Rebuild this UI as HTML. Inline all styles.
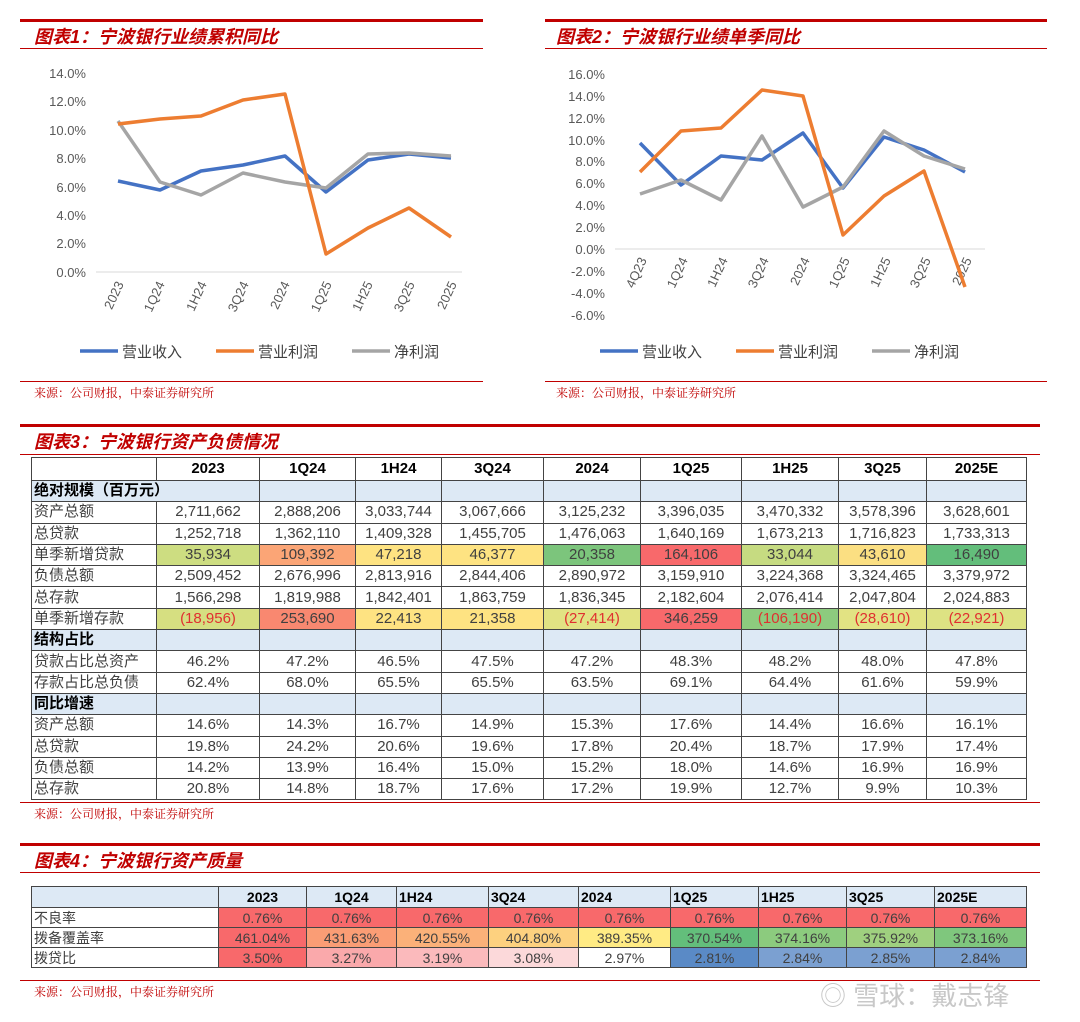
<!DOCTYPE html>
<html><head><meta charset="utf-8"><style>
body{margin:0;width:1080px;height:1022px;background:#fff;position:relative;overflow:hidden;font-family:"Liberation Sans","Noto Sans CJK SC",sans-serif;}
.ab{position:absolute}
.title{position:absolute;color:#c00000;font-style:italic;font-weight:bold;font-size:18px;font-family:"Liberation Sans","Noto Sans CJK SC",sans-serif;}
.thick{position:absolute;height:3px;background:#c00000}
.thin{position:absolute;height:1px;background:#c00000}
.src{position:absolute;color:#c00000;font-size:12px;font-family:"Liberation Serif","Noto Serif CJK SC",serif;}
table{border-collapse:collapse;position:absolute;font-size:15px;color:#404040;table-layout:fixed}
td{border:1px solid #444;padding:0 2px;line-height:16px;text-align:center;white-space:nowrap;overflow:hidden}
tr{height:20px}
#t3 tr{height:21.3px}
td.l{text-align:left}
.hd td{font-weight:bold;color:#000;background:#fff}
.sec td{background:#dde9f5;font-weight:bold;color:#000;text-align:left}
.neg{color:#e03030}
</style></head><body>

<div class="thick" style="left:20px;top:19px;width:463px"></div>
<div class="thin" style="left:20px;top:48px;width:463px"></div>
<div class="title" style="left:34px;top:23px">图表1：宁波银行业绩累积同比</div>
<div class="thick" style="left:545px;top:19px;width:502px"></div>
<div class="thin" style="left:545px;top:48px;width:502px"></div>
<div class="title" style="left:556px;top:23px">图表2：宁波银行业绩单季同比</div>

<svg class="ab" style="left:0;top:0" width="1080" height="420">
<g font-size="13" fill="#595959" text-anchor="end" font-family="Liberation Sans">
<text x="86" y="78">14.0%</text><text x="86" y="106">12.0%</text><text x="86" y="135">10.0%</text><text x="86" y="163">8.0%</text><text x="86" y="192">6.0%</text><text x="86" y="220">4.0%</text><text x="86" y="248">2.0%</text><text x="86" y="277">0.0%</text>
</g>
<line x1="96" y1="272" x2="462" y2="272" stroke="#d9d9d9"/>
<g font-size="13" fill="#595959" text-anchor="end" font-family="Liberation Sans">
<text transform="translate(124,284) rotate(-65)">2023</text><text transform="translate(165,284) rotate(-65)">1Q24</text><text transform="translate(207,284) rotate(-65)">1H24</text><text transform="translate(249,284) rotate(-65)">3Q24</text><text transform="translate(290,284) rotate(-65)">2024</text><text transform="translate(332,284) rotate(-65)">1Q25</text><text transform="translate(373,284) rotate(-65)">1H25</text><text transform="translate(415,284) rotate(-65)">3Q25</text><text transform="translate(457,284) rotate(-65)">2025</text>
</g>
<g fill="none" stroke-width="3.5" stroke-linejoin="round">
<polyline stroke="#4472c4" points="118,181 160,190 201,171 243,165 285,156 326,192 368,160 409,154 451,158"/>
<polyline stroke="#a5a5a5" points="118,121 160,182 201,195 243,173 285,182 326,188 368,154 409,153 451,156"/>
<polyline stroke="#ed7d31" points="118,124 160,119 201,116 243,100 285,94 326,254 368,228 409,208 451,237"/>
</g>
<g font-size="15" fill="#404040" font-family="Liberation Sans,Noto Sans CJK SC">
<line x1="80" y1="351" x2="118" y2="351" stroke="#4472c4" stroke-width="3.5"/><text x="122" y="357">营业收入</text>
<line x1="216" y1="351" x2="254" y2="351" stroke="#ed7d31" stroke-width="3.5"/><text x="258" y="357">营业利润</text>
<line x1="352" y1="351" x2="390" y2="351" stroke="#a5a5a5" stroke-width="3.5"/><text x="394" y="357">净利润</text>
</g>

<g font-size="13" fill="#595959" text-anchor="end" font-family="Liberation Sans">
<text x="605" y="79">16.0%</text><text x="605" y="101">14.0%</text><text x="605" y="123">12.0%</text><text x="605" y="145">10.0%</text><text x="605" y="166">8.0%</text><text x="605" y="188">6.0%</text><text x="605" y="210">4.0%</text><text x="605" y="232">2.0%</text><text x="605" y="254">0.0%</text><text x="605" y="276">-2.0%</text><text x="605" y="298">-4.0%</text><text x="605" y="320">-6.0%</text>
</g>
<line x1="615" y1="249" x2="985" y2="249" stroke="#d9d9d9"/>
<g font-size="13" fill="#595959" text-anchor="end" font-family="Liberation Sans">
<text transform="translate(647,260) rotate(-65)">4Q23</text><text transform="translate(688,260) rotate(-65)">1Q24</text><text transform="translate(728,260) rotate(-65)">1H24</text><text transform="translate(769,260) rotate(-65)">3Q24</text><text transform="translate(810,260) rotate(-65)">2024</text><text transform="translate(850,260) rotate(-65)">1Q25</text><text transform="translate(891,260) rotate(-65)">1H25</text><text transform="translate(931,260) rotate(-65)">3Q25</text><text transform="translate(972,260) rotate(-65)">2025</text>
</g>
<g fill="none" stroke-width="3.5" stroke-linejoin="round">
<polyline stroke="#4472c4" points="640,143 681,185 721,156 762,160 803,133 843,188 884,137 924,150 965,172"/>
<polyline stroke="#a5a5a5" points="640,194 681,180 721,200 762,136 803,207 843,187 884,131 924,156 965,169"/>
<polyline stroke="#ed7d31" points="640,172 681,131 721,128 762,90 803,96 843,235 884,196 924,171 965,287"/>
</g>
<g font-size="15" fill="#404040" font-family="Liberation Sans,Noto Sans CJK SC">
<line x1="600" y1="351" x2="638" y2="351" stroke="#4472c4" stroke-width="3.5"/><text x="642" y="357">营业收入</text>
<line x1="736" y1="351" x2="774" y2="351" stroke="#ed7d31" stroke-width="3.5"/><text x="778" y="357">营业利润</text>
<line x1="872" y1="351" x2="910" y2="351" stroke="#a5a5a5" stroke-width="3.5"/><text x="914" y="357">净利润</text>
</g>
</svg>

<div class="thin" style="left:20px;top:381px;width:463px"></div>
<div class="src" style="left:34px;top:384px">来源：公司财报，中泰证券研究所</div>
<div class="thin" style="left:545px;top:381px;width:502px"></div>
<div class="src" style="left:556px;top:384px">来源：公司财报，中泰证券研究所</div>

<div class="thick" style="left:20px;top:424px;width:1020px"></div>
<div class="thin" style="left:20px;top:454px;width:1020px"></div>
<div class="title" style="left:34px;top:428px">图表3：宁波银行资产负债情况</div>

<table id="t3" style="left:31px;top:457px;width:995px">
<colgroup><col style="width:125px"><col style="width:103px"><col style="width:96px"><col style="width:86px"><col style="width:102px"><col style="width:97px"><col style="width:101px"><col style="width:97px"><col style="width:88px"><col style="width:100px"></colgroup>
<tr class="hd" style="height:23px"><td></td><td>2023</td><td>1Q24</td><td>1H24</td><td>3Q24</td><td>2024</td><td>1Q25</td><td>1H25</td><td>3Q25</td><td>2025E</td></tr>
<tr class="sec"><td colspan="2">绝对规模（百万元）</td><td></td><td></td><td></td><td></td><td></td><td></td><td></td><td></td></tr>
<tr><td class="l">资产总额</td><td>2,711,662</td><td>2,888,206</td><td>3,033,744</td><td>3,067,666</td><td>3,125,232</td><td>3,396,035</td><td>3,470,332</td><td>3,578,396</td><td>3,628,601</td></tr>
<tr><td class="l">总贷款</td><td>1,252,718</td><td>1,362,110</td><td>1,409,328</td><td>1,455,705</td><td>1,476,063</td><td>1,640,169</td><td>1,673,213</td><td>1,716,823</td><td>1,733,313</td></tr>
<tr><td class="l">单季新增贷款</td><td style="background:#cddd81">35,934</td><td style="background:#fba576">109,392</td><td style="background:#fee382">47,218</td><td style="background:#fee382">46,377</td><td style="background:#7cc57c">20,358</td><td style="background:#f8696b">164,106</td><td style="background:#c6db81">33,044</td><td style="background:#fbdf82">43,610</td><td style="background:#63be7b">16,490</td></tr>
<tr><td class="l">负债总额</td><td>2,509,452</td><td>2,676,996</td><td>2,813,916</td><td>2,844,406</td><td>2,890,972</td><td>3,159,910</td><td>3,224,368</td><td>3,324,465</td><td>3,379,972</td></tr>
<tr><td class="l">总存款</td><td>1,566,298</td><td>1,819,988</td><td>1,842,401</td><td>1,863,759</td><td>1,836,345</td><td>2,182,604</td><td>2,076,414</td><td>2,047,804</td><td>2,024,883</td></tr>
<tr><td class="l">单季新增存款</td><td class="neg" style="background:#d6df81">(18,956)</td><td style="background:#f98870">253,690</td><td style="background:#fee382">22,413</td><td style="background:#fee382">21,358</td><td class="neg" style="background:#e2e383">(27,414)</td><td style="background:#f8696b">346,259</td><td class="neg" style="background:#8dcb7e">(106,190)</td><td class="neg" style="background:#e2e383">(28,610)</td><td class="neg" style="background:#dde283">(22,921)</td></tr>
<tr class="sec"><td>结构占比</td><td></td><td></td><td></td><td></td><td></td><td></td><td></td><td></td><td></td></tr>
<tr><td class="l">贷款占比总资产</td><td>46.2%</td><td>47.2%</td><td>46.5%</td><td>47.5%</td><td>47.2%</td><td>48.3%</td><td>48.2%</td><td>48.0%</td><td>47.8%</td></tr>
<tr><td class="l">存款占比总负债</td><td>62.4%</td><td>68.0%</td><td>65.5%</td><td>65.5%</td><td>63.5%</td><td>69.1%</td><td>64.4%</td><td>61.6%</td><td>59.9%</td></tr>
<tr class="sec"><td>同比增速</td><td></td><td></td><td></td><td></td><td></td><td></td><td></td><td></td><td></td></tr>
<tr><td class="l">资产总额</td><td>14.6%</td><td>14.3%</td><td>16.7%</td><td>14.9%</td><td>15.3%</td><td>17.6%</td><td>14.4%</td><td>16.6%</td><td>16.1%</td></tr>
<tr><td class="l">总贷款</td><td>19.8%</td><td>24.2%</td><td>20.6%</td><td>19.6%</td><td>17.8%</td><td>20.4%</td><td>18.7%</td><td>17.9%</td><td>17.4%</td></tr>
<tr><td class="l">负债总额</td><td>14.2%</td><td>13.9%</td><td>16.4%</td><td>15.0%</td><td>15.2%</td><td>18.0%</td><td>14.6%</td><td>16.9%</td><td>16.9%</td></tr>
<tr><td class="l">总存款</td><td>20.8%</td><td>14.8%</td><td>18.7%</td><td>17.6%</td><td>17.2%</td><td>19.9%</td><td>12.7%</td><td>9.9%</td><td>10.3%</td></tr>
</table>
<div class="thin" style="left:20px;top:802px;width:1020px"></div>
<div class="src" style="left:34px;top:805px">来源：公司财报，中泰证券研究所</div>

<div class="thick" style="left:20px;top:843px;width:1020px"></div>
<div class="thin" style="left:20px;top:872px;width:1020px"></div>
<div class="title" style="left:34px;top:847px">图表4：宁波银行资产质量</div>

<table style="left:31px;top:886px;width:995px;font-size:14px">
<colgroup><col style="width:187px"><col style="width:88px"><col style="width:90px"><col style="width:92px"><col style="width:90px"><col style="width:92px"><col style="width:88px"><col style="width:88px"><col style="width:88px"><col style="width:92px"></colgroup>
<tr class="hd" style="height:21px"><td style="background:#dde9f5"></td><td style="background:#dde9f5">2023</td><td style="background:#dde9f5">1Q24</td><td class="l" style="background:#dde9f5">1H24</td><td class="l" style="background:#dde9f5">3Q24</td><td class="l" style="background:#dde9f5">2024</td><td class="l" style="background:#dde9f5">1Q25</td><td class="l" style="background:#dde9f5">1H25</td><td class="l" style="background:#dde9f5">3Q25</td><td class="l" style="background:#dde9f5">2025E</td></tr>
<tr><td class="l">不良率</td><td style="background:#f8696b">0.76%</td><td style="background:#f8696b">0.76%</td><td style="background:#f8696b">0.76%</td><td style="background:#f8696b">0.76%</td><td style="background:#f8696b">0.76%</td><td style="background:#f8696b">0.76%</td><td style="background:#f8696b">0.76%</td><td style="background:#f8696b">0.76%</td><td style="background:#f8696b">0.76%</td></tr>
<tr><td class="l">拨备覆盖率</td><td style="background:#f8696b">461.04%</td><td style="background:#fa9d75">431.63%</td><td style="background:#fbb179">420.55%</td><td style="background:#fdd17f">404.80%</td><td style="background:#ffeb84">389.35%</td><td style="background:#63be7b">370.54%</td><td style="background:#8ccb7e">374.16%</td><td style="background:#9fd07f">375.92%</td><td style="background:#7fc77d">373.16%</td></tr>
<tr><td class="l">拨贷比</td><td style="background:#f8696b">3.50%</td><td style="background:#faa9ab">3.27%</td><td style="background:#fbbabc">3.19%</td><td style="background:#fcd9da">3.08%</td><td style="background:#fff">2.97%</td><td style="background:#5a8ac6">2.81%</td><td style="background:#7ba0d1">2.84%</td><td style="background:#7ba0d1">2.85%</td><td style="background:#7ba0d1">2.84%</td></tr>
</table>
<div class="thin" style="left:20px;top:980px;width:1020px"></div>
<div class="src" style="left:34px;top:983px">来源：公司财报，中泰证券研究所</div>
<div class="ab" style="left:820px;top:976px;font-size:26px;color:#c8c8c8;font-family:'Liberation Sans','Noto Sans CJK SC',sans-serif">◎ 雪球：戴志锋</div>
</body></html>
